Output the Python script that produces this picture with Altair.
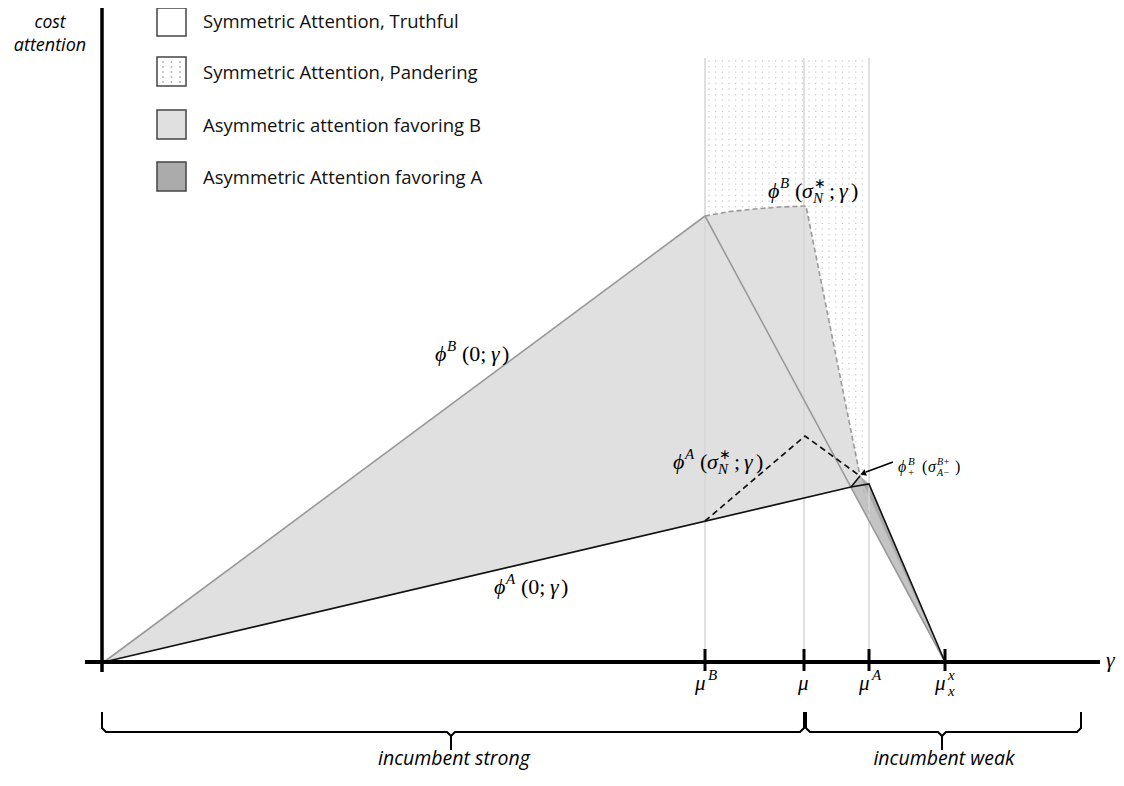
import altair as alt
import pandas as pd
import numpy as np

# ---------------- data (γ on x, cost of attention on y) ----------------
mu_sup = ["B", "", "A", "x"]
mu_sub = ["", "", "", "x"]
mu_pos = [6.01, 7.00, 7.65, 8.41]

# φ^B(0;γ): rising gray line, origin -> peak at μ^B
phiB0_x = [0.0, 6.01]
phiB0_y = [0.0, 4.46]
# φ^B(σ*_N;γ): dashed gray (arc then drop)
phiBs_x = [6.01, 6.26, 6.51, 6.76, 7.02, 7.56]
phiBs_y = [4.46, 4.505, 4.53, 4.55, 4.56, 1.86]
# falling gray line from φ^B peak to μ_x
phiBd_x = [6.01, 8.41]
phiBd_y = [4.46, 0.0]
# φ^A(0;γ): black line
phiA0_x = [0.0, 7.47, 7.65, 8.41]
phiA0_y = [0.0, 1.75, 1.78, 0.0]
# φ^A(σ*_N;γ): dashed black
phiAs_x = [6.01, 7.01, 7.56]
phiAs_y = [1.41, 2.26, 1.86]
# φ^B_+(σ^{B+}_{A-}) kink and inner dashed edge
kink_x = [7.47, 7.56]
kink_y = [1.75, 1.86]
inner_x = [7.56, 7.66]
inner_y = [1.86, 1.44]

legend_labels = ["Symmetric Attention, Truthful", "Symmetric Attention, Pandering",
                 "Asymmetric attention favoring B", "Asymmetric Attention favoring A"]
legend_fill = ["#ffffff", "#ffffff", "#e0e0e0", "#ababab"]

# ---------------- scales ----------------
W, H = 1108, 762
xs = alt.Scale(domain=[-0.96, -0.96 + W / 100.0], nice=False, zero=False)
ys = alt.Scale(domain=[6.54 - H / 100.0, 6.54], nice=False, zero=False)
X = alt.X("x:Q", scale=xs, axis=None)
Y = alt.Y("y:Q", scale=ys, axis=None)


def P(px, py):
    """page-pixel reading -> data units"""
    return (px - 104) / 100.0, (662 - py) / 100.0


def line(x, y, color, width, dash=None):
    df = pd.DataFrame({"x": x, "y": y, "i": list(range(len(x)))})
    kw = dict(color=color, strokeWidth=width)
    if dash:
        kw["strokeDash"] = dash
    return alt.Chart(df).mark_line(**kw).encode(x=X, y=Y, order="i:Q")


def area(x, y, color):
    df = pd.DataFrame({"x": x, "y": y, "b": [0.0] * len(x)})
    return alt.Chart(df).mark_area(color=color, opacity=1, orient="vertical",
                                   interpolate="linear").encode(x=X, y=Y, y2="b:Q")


layers = []

# dotted texture of the pandering region
dx_ = np.arange(709, 869, 6.67)
dy_ = np.arange(61, 662, 5.6)
gx, gy = np.meshgrid(dx_, dy_)
dots = pd.DataFrame({"x": (gx.ravel() - 104) / 100, "y": (662 - gy.ravel()) / 100})
layers.append(alt.Chart(dots).mark_square(size=1.6, color="#cdcdcd", opacity=1).encode(x=X, y=Y))

# light gray region (asymmetric attention favoring B)
A1x = phiB0_x + phiBs_x[1:] + phiA0_x[2:]
A1y = phiB0_y + phiBs_y[1:] + phiA0_y[2:]
layers.append(area(A1x, A1y, "#e0e0e0"))
# white below φ^A(0;γ)
layers.append(area(phiA0_x[:2], phiA0_y[:2], "#ffffff"))
# dark region (favoring A)
layers.append(area([7.47, 7.56, 7.65, 8.41], [1.75, 1.86, 1.78, 0.0], "#a9a9a9"))
layers.append(area([7.47, 7.56, 8.41], [1.75, 1.86, 0.0], "#c4c4c4"))
layers.append(area([7.47, 8.41], [1.75, 0.0], "#ffffff"))

# vertical light lines at μ^B, μ, μ^A
vdf = pd.DataFrame({"x": mu_pos[:3], "y": [0.0] * 3, "y2": [6.04] * 3})
layers.append(alt.Chart(vdf).mark_rule(color="#d6d6d6", strokeWidth=1.5).encode(x=X, y=Y, y2="y2:Q"))

# curves
layers.append(line(phiB0_x, phiB0_y, "#999999", 1.6))
layers.append(line(phiBd_x, phiBd_y, "#999999", 1.6))
layers.append(line(phiBs_x, phiBs_y, "#999999", 1.6, [5, 3]))
layers.append(line(inner_x, inner_y, "#bbbbbb", 1.2, [4, 3]))
layers.append(line(phiA0_x, phiA0_y, "#111111", 1.6))
layers.append(line(kink_x, kink_y, "#111111", 1.6))
layers.append(line(phiAs_x, phiAs_y, "#111111", 1.7, [6, 4]))

# axes
ax = pd.DataFrame({"x": [-0.19], "x2": [9.96], "y": [0.0]})
layers.append(alt.Chart(ax).mark_rule(color="black", strokeWidth=4).encode(x=X, x2="x2:Q", y=Y))
ay = pd.DataFrame({"x": [-0.02], "y": [-0.10], "y2": [6.70]})
layers.append(alt.Chart(ay).mark_rule(color="black", strokeWidth=3.5).encode(x=X, y=Y, y2="y2:Q"))
tk = pd.DataFrame({"x": mu_pos, "y": [0.13] * 4, "y2": [-0.09] * 4})
layers.append(alt.Chart(tk).mark_rule(color="black", strokeWidth=3).encode(x=X, y=Y, y2="y2:Q"))

# braces
def brace(pts):
    xx = [P(a, b)[0] for a, b in pts]
    yy = [P(a, b)[1] for a, b in pts]
    return line(xx, yy, "black", 2)

layers.append(brace([(102, 712), (102, 728), (106, 732), (447, 732), (451, 736), (451, 750),
                     (451, 736), (455, 732), (800, 732), (804, 728), (804, 712)]))
layers.append(brace([(806, 712), (806, 728), (810, 732), (938, 732), (942, 736), (942, 750),
                     (942, 736), (946, 732), (1077, 732), (1081, 728), (1081, 712)]))

# arrow to φ^B_+(σ^{B+}_{A-})
a0 = P(893, 462)
a1 = P(866, 472)
arr = pd.DataFrame({"x": [a0[0]], "y": [a0[1]], "x2": [a1[0]], "y2": [a1[1]]})
layers.append(alt.Chart(arr).mark_rule(color="black", strokeWidth=1.5).encode(x=X, y=Y, x2="x2:Q", y2="y2:Q"))
ah = P(863, 473.5)
layers.append(alt.Chart(pd.DataFrame({"x": [ah[0]], "y": [ah[1]]})).mark_point(
    shape="triangle-left", filled=True, color="black", size=45, angle=340, opacity=1).encode(x=X, y=Y))

# legend boxes
box_rows = [(8, 36), (57, 86), (110, 139), (162, 191)]
lb = pd.DataFrame({
    "x": [P(157, 0)[0]] * 4, "x2": [P(186, 0)[0]] * 4,
    "y": [P(0, r[0])[1] for r in box_rows], "y2": [P(0, r[1])[1] for r in box_rows],
    "fill": legend_fill})
layers.append(alt.Chart(lb).mark_rect(stroke="#444444", strokeWidth=1.5).encode(
    x=X, x2="x2:Q", y=Y, y2="y2:Q", fill=alt.Fill("fill:N", scale=None)))
lgx, lgy = np.meshgrid([163, 171.5, 180], [62, 67, 72, 77, 82])
ldots = pd.DataFrame({"x": (lgx.ravel() - 104) / 100, "y": (662 - lgy.ravel()) / 100})
layers.append(alt.Chart(ldots).mark_square(size=2.0, color="#999999", opacity=1).encode(x=X, y=Y))
lt = pd.DataFrame({"x": [P(203, 0)[0]] * 4,
                   "y": [P(0, c)[1] for c in (22, 73, 126, 178)],
                   "text": legend_labels})
layers.append(alt.Chart(lt).mark_text(align="left", baseline="middle", font="Open Sans",
                                      fontSize=18.5, color="#111111").encode(x=X, y=Y, text="text:N"))


# text helpers
def texts(rows, font, italic, align="left"):
    df = pd.DataFrame(rows, columns=["x", "y", "text", "size"])
    kw = dict(align=align, baseline="alphabetic", font=font, color="black")
    if italic:
        kw["fontStyle"] = "italic"
    return alt.Chart(df).mark_text(**kw).encode(x=X, y=Y, text="text:N",
                                               size=alt.Size("size:Q", scale=None))


ital, upr = [], []


def piece(anchor, dx, dy, txt, size, it):
    x0, y0 = P(anchor[0] + dx, anchor[1] + dy)
    (ital if it else upr).append((x0, y0, txt, size))


def phi0(anchor, sup, s=22):
    piece(anchor, 0, 0, "ϕ", s, True)
    piece(anchor, 12, -10, sup, 15, True)
    piece(anchor, 27, 0, "(0;", s, False)
    piece(anchor, 56, 0, "γ", s, True)
    piece(anchor, 67, 0, ")", s, False)


def phis(anchor, sup, s=22):
    piece(anchor, 0, 0, "ϕ", s, True)
    piece(anchor, 12, -10, sup, 15, True)
    piece(anchor, 27, 0, "(", s, False)
    piece(anchor, 34, 0, "σ", s, True)
    piece(anchor, 46, -10, "∗", 14, False)
    piece(anchor, 45, 5, "N", 15, True)
    piece(anchor, 61, 0, ";", s, False)
    piece(anchor, 71, 0, "γ", s, True)
    piece(anchor, 83, 0, ")", s, False)


phi0((435, 361), "B")
phi0((494, 594), "A")
phis((673, 469), "A")
phis((768, 198), "B")
# φ^B_+(σ^{B+}_{A-})
an = (898, 472)
piece(an, 0, 0, "ϕ", 16, True)
piece(an, 10, -7, "B", 11, True)
piece(an, 10, 4, "+", 11, False)
piece(an, 24, 0, "(", 16, False)
piece(an, 30, 0, "σ", 16, True)
piece(an, 39, -7, "B+", 10, True)
piece(an, 39, 4, "A−", 10, True)
piece(an, 57, 0, ")", 16, False)

# μ tick labels
for m, sp, sb in zip(mu_pos, mu_sup, mu_sub):
    tx = 104 + m * 100
    if sp == "":
        piece((tx - 6, 690), 0, 0, "μ", 21, True)
    else:
        piece((tx - 10, 690), 0, 0, "μ", 21, True)
        piece((tx - 10, 690), 13, -10, sp, 15, True)
        if sb:
            piece((tx - 10, 690), 13, 6, sb, 15, True)

# γ axis label
piece((1106, 667), 0, 0, "γ", 22, True)

layers.append(texts(ital, "Liberation Serif", True))
layers.append(texts(upr, "Liberation Serif", False))

# plain labels (sans italic)
sans = [
    (P(50, 0)[0], P(0, 28)[1], "cost", 17.5),
    (P(50, 0)[0], P(0, 51)[1], "attention", 18),
    (P(454, 0)[0], P(0, 765)[1], "incumbent strong", 19.5),
    (P(944, 0)[0], P(0, 765)[1], "incumbent weak", 19.5),
]
layers.append(texts(sans, "Open Sans", True, align="center"))

chart = alt.layer(*layers).properties(
    width=W, height=H, padding=0, background="white",
    autosize=alt.AutoSizeParams(type="none")
).configure_view(stroke=None)

chart.save("out.html", embed_options={"renderer": "svg", "actions": False})
